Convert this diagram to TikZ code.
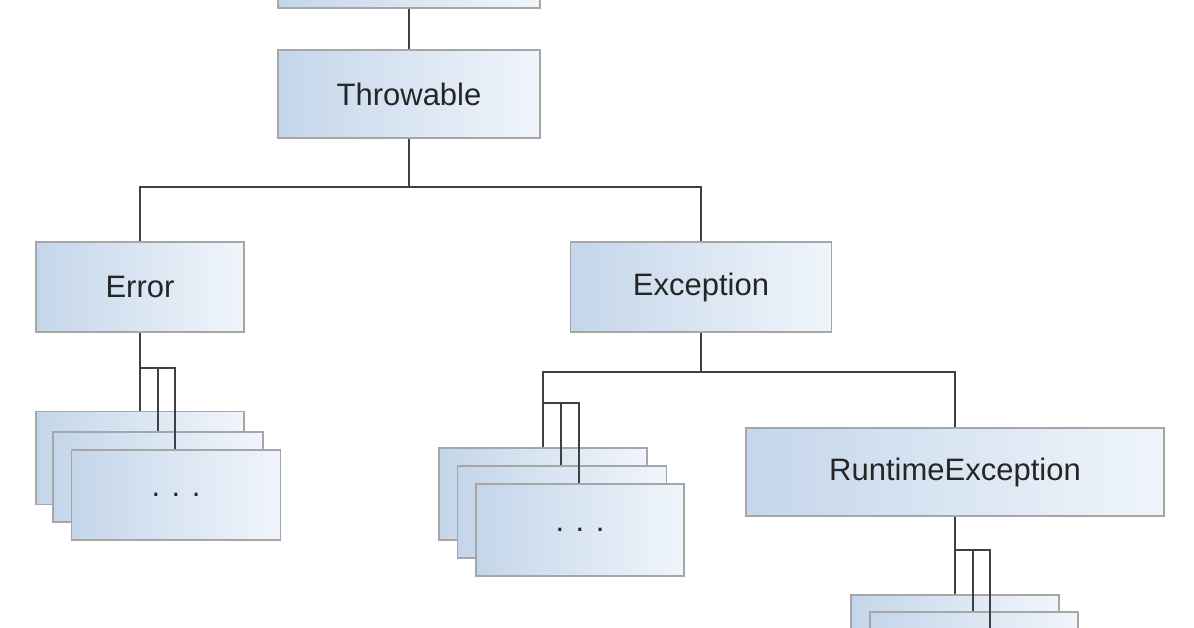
\documentclass[tikz,border=0pt]{standalone}
\usepackage{fontspec}
\setmainfont{Liberation Sans}
\usetikzlibrary{positioning}
\definecolor{boxblue}{RGB}{196,214,234}
\definecolor{boxpale}{RGB}{240,245,251}
\tikzset{
  cls/.style={draw=gray!70,line width=1.5pt,left color=boxblue,right color=boxpale,
    inner sep=0pt,font=\fontsize{31}{36}\selectfont,text=black!85},
  link/.style={draw=black!75,line width=2pt},
}
\begin{document}
\begin{tikzpicture}[x=1pt,y=-1pt]
\useasboundingbox (0,0) rectangle (1194,628);
\node[cls,minimum width=262pt,minimum height=88pt] (object) at (409,-36) {};
\node[cls,minimum width=262pt,minimum height=88pt] (throwable) at (409,94) {Throwable};
\node[cls,minimum width=208pt,minimum height=90pt] (error) at (140,287) {Error};
\node[cls,minimum width=261pt,minimum height=90pt] (exception) at (701,287) {Exception};
\node[cls,minimum width=418pt,minimum height=88pt] (runtime) at (955,472) {RuntimeException};
% stacks of subclasses
\node[cls,minimum width=208pt,minimum height=93pt] (errA) at (140,458) {};
\node[cls,minimum width=210pt,minimum height=90pt] (errB) at (158,477) {};
\node[cls,minimum width=209pt,minimum height=90pt,text depth=-12pt] (errC) at (176,495) {. . .};
\node[cls,minimum width=208pt,minimum height=92pt] (excA) at (543,494) {};
\node[cls,minimum width=209pt,minimum height=92pt] (excB) at (562,512) {};
\node[cls,minimum width=208pt,minimum height=92pt,text depth=-12pt] (excC) at (580,530) {. . .};
\node[cls,minimum width=208pt,minimum height=70pt] (rtA) at (955,630) {};
\node[cls,minimum width=208pt,minimum height=70pt] (rtB) at (974,647) {};
\coordinate (errJ) at (140,368);
\coordinate (excJ) at (701,372);
\coordinate (rtJ) at (955,550);
\draw[link] (object) -- (throwable);
\draw[link] (throwable.south) -- ++(0,48) -| (error.north);
\draw[link] (throwable.south) -- ++(0,48) -| (exception.north);
\draw[link] (error.south) -- (errJ) -- (errA.north);
\draw[link] (errJ) -| ([xshift=18pt]errJ |- errB.north);
\draw[link] (errJ) -| ([xshift=35pt]errJ |- errC.north);
\draw[link] (exception.south) -- (excJ) -| (runtime.north);
\draw[link] (excJ) -| ([yshift=44pt]excA.north) coordinate (excK) -- (excA.north);
\draw[link] (excK) -| ([xshift=18pt]excK |- excB.north);
\draw[link] (excK) -| ([xshift=36pt]excK |- excC.north);
\draw[link] (runtime.south) -- (rtJ) -- (rtA.north);
\draw[link] (rtJ) -| ([xshift=18pt]rtJ |- rtB.north);
\draw[link] (rtJ) -| ([xshift=35pt]rtJ |- 0,628);
\end{tikzpicture}
\end{document}
